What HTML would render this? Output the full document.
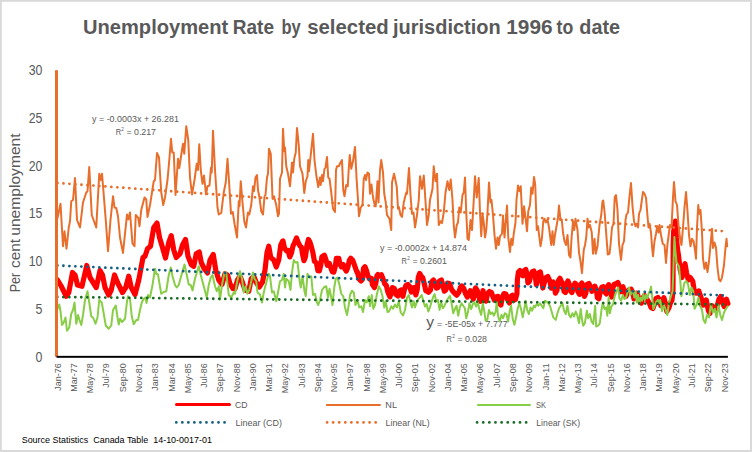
<!DOCTYPE html>
<html><head><meta charset="utf-8"><title>Unemployment Rate by selected jurisdiction</title>
<style>html,body{margin:0;padding:0;background:#fff}body{width:752px;height:452px;overflow:hidden}svg{display:block}text{font-family:"Liberation Sans",sans-serif}</style></head><body>
<svg width="752" height="452" viewBox="0 0 752 452">
<rect x="0" y="0" width="752" height="452" fill="#D9D9D9"/>
<rect x="1.8" y="1.8" width="748.2" height="448.2" fill="#FFFFFF"/>
<text x="83" y="34" font-size="19.5" fill="#595959" text-anchor="start" textLength="145.2" lengthAdjust="spacingAndGlyphs" font-weight="bold">Unemployment</text>
<text x="232.7" y="34" font-size="19.5" fill="#595959" text-anchor="start" textLength="41.3" lengthAdjust="spacingAndGlyphs" font-weight="bold">Rate</text>
<text x="281.5" y="34" font-size="19.5" fill="#595959" text-anchor="start" textLength="19.3" lengthAdjust="spacingAndGlyphs" font-weight="bold">by</text>
<text x="307.2" y="34" font-size="19.5" fill="#595959" text-anchor="start" textLength="81.5" lengthAdjust="spacingAndGlyphs" font-weight="bold">selected</text>
<text x="393" y="34" font-size="19.5" fill="#595959" text-anchor="start" textLength="107.7" lengthAdjust="spacingAndGlyphs" font-weight="bold">jurisdiction</text>
<text x="506.3" y="34" font-size="19.5" fill="#595959" text-anchor="start" textLength="46.3" lengthAdjust="spacingAndGlyphs" font-weight="bold">1996</text>
<text x="556.6" y="34" font-size="19.5" fill="#595959" text-anchor="start" textLength="16.7" lengthAdjust="spacingAndGlyphs" font-weight="bold">to</text>
<text x="579.3" y="34" font-size="19.5" fill="#595959" text-anchor="start" textLength="40.7" lengthAdjust="spacingAndGlyphs" font-weight="bold">date</text>
<text x="35.5" y="361.6" font-size="14" fill="#595959" text-anchor="start" textLength="6.9" lengthAdjust="spacingAndGlyphs">0</text>
<text x="35.5" y="313.885" font-size="14" fill="#595959" text-anchor="start" textLength="6.9" lengthAdjust="spacingAndGlyphs">5</text>
<text x="28.7" y="266.17" font-size="14" fill="#595959" text-anchor="start" textLength="13.7" lengthAdjust="spacingAndGlyphs">10</text>
<text x="28.7" y="218.455" font-size="14" fill="#595959" text-anchor="start" textLength="13.7" lengthAdjust="spacingAndGlyphs">15</text>
<text x="28.7" y="170.74" font-size="14" fill="#595959" text-anchor="start" textLength="13.7" lengthAdjust="spacingAndGlyphs">20</text>
<text x="28.7" y="123.025" font-size="14" fill="#595959" text-anchor="start" textLength="13.7" lengthAdjust="spacingAndGlyphs">25</text>
<text x="28.7" y="75.31" font-size="14" fill="#595959" text-anchor="start" textLength="13.7" lengthAdjust="spacingAndGlyphs">30</text>
<text transform="translate(20 292.3) rotate(-90)" font-size="15.5" fill="#595959" text-anchor="start" textLength="19.5" lengthAdjust="spacingAndGlyphs">Per</text>
<text transform="translate(20 268) rotate(-90)" font-size="15.5" fill="#595959" text-anchor="start" textLength="29" lengthAdjust="spacingAndGlyphs">cent</text>
<text transform="translate(20 235.8) rotate(-90)" font-size="15.5" fill="#595959" text-anchor="start" textLength="102.4" lengthAdjust="spacingAndGlyphs">unemployment</text>
<text x="92" y="122.1" font-size="9" fill="#595959" text-anchor="start" textLength="86.9" lengthAdjust="spacingAndGlyphs">y = -0.0003x + 26.281</text>
<text x="115.7" y="134.9" font-size="9" fill="#595959" text-anchor="start" textLength="5.4" lengthAdjust="spacingAndGlyphs">R</text><text x="121.3" y="130.9" font-size="5.5" fill="#595959" text-anchor="start" textLength="2.6" lengthAdjust="spacingAndGlyphs">2</text><text x="126.5" y="134.9" font-size="9" fill="#595959" text-anchor="start" textLength="29.5" lengthAdjust="spacingAndGlyphs">= 0.217</text>
<text x="380" y="251.1" font-size="9" fill="#595959" text-anchor="start" textLength="86.9" lengthAdjust="spacingAndGlyphs">y = -0.0002x + 14.874</text>
<text x="401.6" y="263.6" font-size="9" fill="#595959" text-anchor="start" textLength="5.4" lengthAdjust="spacingAndGlyphs">R</text><text x="407.2" y="259.6" font-size="5.5" fill="#595959" text-anchor="start" textLength="2.6" lengthAdjust="spacingAndGlyphs">2</text><text x="412.4" y="263.6" font-size="9" fill="#595959" text-anchor="start" textLength="34.4" lengthAdjust="spacingAndGlyphs">= 0.2601</text>
<text x="426.3" y="327.4" font-size="14" fill="#595959" text-anchor="start" textLength="7.8" lengthAdjust="spacingAndGlyphs">y</text>
<text x="437.1" y="327.4" font-size="9" fill="#595959" text-anchor="start" textLength="70.5" lengthAdjust="spacingAndGlyphs">= -5E-05x + 7.777</text>
<text x="446.6" y="342.4" font-size="9" fill="#595959" text-anchor="start" textLength="5.4" lengthAdjust="spacingAndGlyphs">R</text><text x="452.2" y="338.4" font-size="5.5" fill="#595959" text-anchor="start" textLength="2.6" lengthAdjust="spacingAndGlyphs">2</text><text x="457.4" y="342.4" font-size="9" fill="#595959" text-anchor="start" textLength="29.6" lengthAdjust="spacingAndGlyphs">= 0.028</text>
<path d="M57.5 280 L61.25 286.25 L66.25 296.25 L68.75 292.5 L72.5 272.5 L75 275 L77.5 285 L82 286.25 L86.75 265.5 L90 277.5 L96.25 287.5 L100 270.5 L102.5 275 L105 287.5 L108.75 295 L111.25 290 L114.5 275 L117.5 282.5 L122.5 292.5 L125.75 287.5 L128.75 276.25 L131.25 287.5 L135 294.5 L138.75 280 L143 257.5 L145 256.25 L147.5 248.75 L150.5 246.25 L153.75 227.5 L157 223 L159.5 237.5 L162.5 247.5 L165.5 258 L168.75 242.5 L171.25 235.75 L173.75 250 L176.25 257.5 L180 253.75 L182.5 245 L185.5 239.5 L188 256.25 L191.25 264.5 L193.75 266.25 L196.25 253.75 L199.25 252 L201.25 262.5 L204.25 268.75 L207.5 273 L210 260 L213.25 254.5 L215.75 270 L218.75 280 L222 284.5 L225 273.75 L227.5 275 L230 283.75 L233 288.75 L235 288.75 L237.5 280 L240 276.25 L242.5 282.5 L245 290 L248.75 291.25 L251.25 278.75 L253.75 276.25 L256.25 282.5 L259.25 287 L262.5 282 L265 270 L267 252.5 L268.75 246.25 L270.75 257.5 L273.75 260 L276.25 267 L278.75 260 L280.75 245 L282.5 241.25 L283 240.96 L284.5 247.94 L286.49 250.93 L287.99 250.43 L289.78 256.91 L291.47 252.93 L292.97 245.95 L294.47 242.96 L296.46 237.97 L297.96 241.96 L299.95 245.95 L301.44 247.18 L302.44 253.68 L303.94 260.64 L305.43 257.01 L306.93 245.59 L308.42 239.41 L309.92 241.98 L311.41 246.76 L312.91 252.72 L314.41 261.25 L316.4 262.8 L317.9 270.75 L319.39 270.89 L320.89 264.65 L321.88 256.95 L324.38 255.19 L325.87 259.51 L327.37 265.24 L329.36 263.52 L330.86 268.05 L332.35 271.75 L333.85 272.16 L335.34 266.24 L336.34 258.32 L338.83 258.26 L339.83 263.74 L341.33 266.86 L343.32 264.62 L344.81 268.56 L346.31 271.04 L347.81 267.57 L349.3 260.48 L350.8 258.21 L352.79 260.24 L354.29 264.54 L355.78 268.95 L357.28 272.75 L357.49 272.19 L358.98 279.01 L360.98 281.01 L362.47 279.29 L363.47 268.45 L364.96 266.68 L366.46 270.4 L367.96 275.83 L369.45 278.88 L371.44 278.29 L372.44 284.64 L374.44 287.59 L375.93 282.84 L376.93 275.61 L377.93 274.47 L379.42 276.03 L381.41 274.8 L382.91 278.56 L384.9 284.01 L386.4 285.6 L387.9 292.28 L389.89 296.79 L391.38 292.51 L392.38 287.66 L394.38 288.67 L395.87 294.49 L397.87 295.96 L399.36 291 L401.35 289.88 L402.85 296.34 L404.35 289.92 L405.84 285.59 L407.84 284.53 L409.83 286.75 L411.33 292.08 L412.82 287.98 L414.32 287.6 L415.81 294.87 L417.31 289.03 L418.3 277.3 L419.6 273.46 L421.3 276.19 L422.79 277.82 L424.29 283.92 L425.78 290.63 L427.78 291.73 L428.45 292.25 L430.45 289.95 L431.94 281.56 L433.44 279.95 L434.93 282.74 L436.43 288.18 L437.93 287.57 L439.42 281.13 L441.41 280.01 L442.91 286.15 L444.41 291.2 L445.9 289.79 L447.4 283.12 L449.39 283.5 L451.38 288.89 L452.88 291.42 L454.87 293.43 L456.87 295.16 L458.86 292.24 L460.36 287.57 L461.85 285.92 L463.85 288.65 L465.34 293.21 L467.34 297.14 L468.83 293.25 L470.33 290.77 L471.82 295.4 L473.32 299.03 L474.32 291.67 L475.61 287.85 L477.31 290.55 L478.8 296.77 L480.3 301.3 L481.79 300.78 L483 290.54 L484.5 298.73 L485.99 301.13 L487.49 293.69 L489.48 291.53 L491.47 292.59 L492.97 296.9 L494.47 300.16 L495.96 296.94 L497.96 296.36 L499.45 303.23 L500.95 305.01 L502.44 296.78 L503.94 293.52 L505.93 294.07 L507.43 299.27 L509.42 302.96 L510.92 296.53 L512.41 295.2 L513.91 300.26 L515.4 299.52 L516.9 293.81 L517.4 279.49 L518.39 271.99 L519.89 270.51 L521.38 274.48 L522.88 275.77 L524.38 270.5 L525.87 269.56 L527.37 276.45 L527.87 282.85 L529.36 281.32 L530.86 274.92 L532.35 271.65 L533.85 271.04 L535.34 276.96 L536.34 284.65 L537.84 279.5 L538.83 272.56 L540.33 271.98 L541.82 279.18 L542.82 288.04 L544.32 282.64 L545.81 277.78 L547.81 276.51 L549.8 280.74 L551.3 288.13 L552.79 282.44 L553.3 282.1 L554 285.58 L555.49 293.14 L556.99 290.21 L558.48 280.52 L559.98 278.35 L561.47 281.64 L562.97 284.89 L563.97 291.25 L565.46 292.57 L566.46 283.79 L567.96 281.02 L569.45 284.8 L570.45 290.83 L571.94 292.61 L573.44 286.93 L574.93 283.11 L576.43 284.68 L577.93 291.68 L579.42 294.36 L580.42 284.66 L581.91 283.05 L583.41 289.31 L584.41 296.31 L585.9 293 L586.9 284.63 L588.89 283.53 L590.39 286.17 L591.88 291.23 L593.38 290.04 L594.87 286.16 L596.37 290.03 L597.37 297.66 L598.86 298.78 L600.36 291.09 L601.85 287.17 L603.35 286.59 L604.84 292.31 L606.34 293.87 L607.34 286.72 L608.83 284.62 L610.33 290.6 L611.82 297.08 L612.82 287.99 L614.32 284.15 L616.31 283.6 L617.81 282.44 L619.3 286.24 L620.8 291.74 L622.29 287.33 L623 286.79 L624.5 292.73 L625.99 296.28 L627.49 292.08 L628.98 289.75 L630.98 289.11 L632.47 291.74 L633.97 298.87 L635.46 294.91 L636.96 293.23 L638.45 297.11 L639.95 302 L641.44 303.03 L642.94 297.82 L644.44 295.53 L646.43 298.69 L647.93 300.85 L649.42 303.42 L650.92 307.36 L652.91 308.46 L654.41 304.41 L655.9 298.59 L657.9 297.5 L659.39 299.69 L660.89 305.66 L662.38 301.88 L663.88 297.6 L665.37 303.14 L666.87 311.45 L668.86 307.89 L670.4 303 L672 300 L673 290 L673.2 245 L673.6 232 L675.4 221.1 L676.4 238 L677.6 250 L678.6 256 L680.2 270 L682 277.5 L683.5 268.75 L685 263.75 L686.5 272.5 L688.25 280 L690.25 277.5 L692.75 281.25 L694.5 292.5 L696.6 293.19 L698.83 290.96 L701.07 297.66 L703.3 305.11 L706.28 299.9 L708.51 311.07 L710 313.3 L712.24 305.85 L714.47 309.58 L716.71 307.34 L718.94 299.15 L720.73 296.47 L722.66 302.87 L724.15 306.6 L726.39 299.15 L727.88 303.62" fill="none" stroke="#FF0000" stroke-width="5.2" stroke-linejoin="round" stroke-linecap="round"/>
<path d="M57.5 218 L60.5 203.75 L63 246.25 L64.5 231.25 L66.5 248.75 L68.75 227.5 L70 221.25 L71.25 201.25 L73 200 L75 178 L77 220 L80 227.5 L83 202.5 L86.25 192.5 L87.5 191.25 L89.25 167 L91.75 215 L96.25 227.5 L99.25 173.75 L100.75 180 L102 173.75 L103.75 195 L105.75 220 L108 251.25 L110.5 220 L113 196.25 L114.5 207.5 L116.25 208 L118 216.25 L120 237.5 L123 253 L127 214.5 L128.25 219.5 L130 212.5 L132.5 243.75 L134.5 246.25 L135.75 215 L138.25 218 L139.5 226.25 L141.25 210 L144.5 197.5 L146.25 199.5 L147.5 217 L150 205 L153.75 181.25 L155 180 L157 153 L159 157.5 L161.25 192.5 L163.25 205 L165 197.5 L167.5 180 L169.5 157.5 L171 138.75 L172.25 152.5 L173.75 152.5 L175.5 195 L178 158.75 L179.25 168 L181.25 155 L183 143.75 L184.25 153.75 L186.25 126.25 L188.25 140 L190 177.5 L192 194.5 L194.5 180 L196.75 163.75 L198 170 L199.25 144.25 L200.75 170 L202.5 183.75 L204 175.5 L206 194.5 L207.5 186.25 L209.5 185.5 L211 167.5 L211.75 172.5 L213 130.75 L215 170 L217.5 207.5 L218.75 214.5 L221.25 213 L223.75 192.5 L225.75 182.5 L227.5 158.75 L229.25 185 L231 213.75 L232.75 212 L234.75 225 L237 237.5 L238.75 201.25 L239.5 206.25 L240.75 181.25 L242.5 202.5 L244.25 221.25 L246 227.5 L248 212.5 L249.25 214.5 L251.25 205 L253 186.25 L254 191.25 L255.5 177.5 L257 175 L258 190 L259.5 197.5 L261.25 211.25 L263 214.5 L264.5 196.25 L265.5 195 L267 177.5 L268 173.75 L269 148.75 L270.75 153.75 L272.5 197.5 L274 196.25 L276.25 205 L278 216.25 L279 213.75 L280 178.75 L282 172.5 L283 128.75 L284.25 151.25 L285 147.5 L286.25 166.25 L288 173.75 L290 186.25 L292 162.5 L293 172.5 L294.25 158.75 L295.75 152.5 L297 128 L298.75 145 L300 166.25 L302.5 173.75 L304.25 193 L305.75 181.25 L307.5 176.25 L308.25 160 L309 171.25 L311 152.5 L313 133.75 L314.5 160 L316.25 175 L318.25 187 L320 177.5 L320.75 185 L322 175 L323 181.25 L324.5 168.75 L325.5 167.5 L327 157 L328.25 177.5 L329.5 178.75 L331.25 192.5 L333 208.75 L335 212 L336 170 L337 166.25 L338.75 166.25 L340.5 162.5 L342 160 L343.25 190 L344.5 196.25 L346.25 185 L347.75 186.25 L348.75 168.75 L349.75 155 L351.25 168.75 L353 161.25 L355 147 L356.5 177.5 L358 200 L359 216.25 L360.75 207.5 L362.5 205 L363.75 178.75 L365 175 L366 180 L367.5 172.5 L369 173.75 L370 193.75 L371.5 184.5 L373 197.5 L374.5 203.75 L375.75 206.25 L377.5 181.25 L378.5 202.5 L380 170 L381.25 160 L383 172.5 L384.25 193.75 L385.75 202.5 L387 215 L389.5 218.75 L391.25 230 L392 182.5 L394 173.75 L395 178 L396.75 187 L398 208.75 L399 207.5 L400.5 215 L402 217 L403.75 202.5 L406.25 192.5 L407 193.75 L409 168 L410.5 195 L412 213.75 L413.5 212.5 L414.5 222.5 L415 227.5 L417 215 L418.75 200 L420 176.25 L422 188.75 L423.75 175.5 L425 193.75 L427 225 L428.75 215 L430 200 L432.5 188.75 L433.75 166.25 L435.5 181.25 L437 173.75 L438.75 225 L440.5 221.25 L442 223 L443.75 212.5 L445.5 192.5 L447.5 181.25 L449.25 190 L450.75 179.5 L452.5 200 L453.75 225 L455 237.5 L456.75 225 L458 222.5 L459.25 207.5 L460.75 212.5 L462.5 195 L463.75 192.5 L465 177.5 L466.25 212.5 L467.5 238.75 L468.75 240 L470.5 220 L472 230 L473.75 200 L475 176.25 L476.75 197.5 L478.75 178 L480 212.5 L481.25 236.25 L482.5 213.75 L483.75 222.5 L485 237.5 L486.25 230 L487.5 212.5 L489 182.5 L490.5 202.5 L491.5 200 L493 215 L494.5 235 L496 248.75 L497.5 237.5 L498.75 245 L500 236.25 L502 233.75 L503 215.5 L504.5 237.5 L505.5 225 L507 205.5 L508.25 237.5 L510 252 L511.25 238.75 L512.5 245 L513.75 233.75 L515.5 222.5 L516.5 200 L518 185.5 L519.5 191.25 L520.75 186.25 L522.5 223.75 L524 206.25 L525.5 217.5 L527 231.25 L528.25 211.25 L530 205 L531.25 187.5 L532.5 193.75 L534 177 L535.25 185 L536.75 230 L538 226.25 L539.25 236.25 L540.5 246.25 L542 237.5 L543.25 221.25 L544.5 218.75 L545.75 222.5 L547.5 219.5 L549 227.5 L550 235 L551.25 245 L552.5 231.25 L553.75 245 L555 235 L556.5 226.25 L558 217.5 L559 205.5 L560.5 220 L561.75 219.5 L563 232.5 L564.5 241.25 L566 245 L567.5 235 L569 255 L570.5 257.5 L571.5 238.75 L573 221.25 L574.25 230 L575.5 218.75 L577.5 230 L579 252.5 L580.5 261.25 L582 273 L583.75 250 L585 245 L586.25 237.5 L587.5 218.75 L588.75 227.5 L590 225 L591.75 232.5 L593 253.75 L594.5 238.75 L595.75 253.75 L597.5 246.25 L599.5 225 L601.25 215 L602.5 201.25 L603.25 200.5 L604.75 213.75 L606.5 237.5 L607.75 254.5 L609.5 253.75 L610.5 245 L612 227.5 L613.5 223.75 L614.75 197 L616 195 L617.5 210 L619 243.75 L621 260 L622.5 245 L624 241.25 L625.5 220 L626.5 214.5 L628 212.5 L629.5 196.25 L631 183 L632.5 206.25 L634 221.25 L635.5 226.25 L636.5 223.75 L638 227.5 L639 213.75 L640.5 210 L641.5 202.5 L643 192 L644.5 193.75 L646 197.5 L647.5 216.25 L648.5 227.5 L649.5 223.75 L651 232.5 L652 246.25 L653 256.25 L654.5 241.25 L656 233.75 L657.25 226.25 L658.5 232.5 L659.5 225 L661 235 L662.75 243.75 L664.5 245 L666 263 L667.5 243.75 L669 232.5 L670 225 L671.5 227.5 L673 197.5 L674 182 L675.5 201.25 L677 205 L678.5 225 L680 237.5 L681.5 245 L683 227.5 L684.5 207.5 L686 192 L687.5 211.25 L689 235 L690.5 246.25 L692 238.75 L693.5 241.25 L695 250 L696 258.75 L697 227.5 L698.25 205 L699.25 213.75 L700.5 210 L702 232.5 L703 258.75 L704.5 268.75 L706 262.5 L707.5 272 L709 261.25 L710.5 245 L712 228.75 L713 248 L714.5 242.5 L716 247.5 L717.5 267.5 L719 279.5 L720.5 281.25 L722 277.5 L724 265 L725.5 247.5 L726.5 238.75 L727.25 246.25" fill="none" stroke="#E86E2C" stroke-width="2" stroke-linejoin="round" stroke-linecap="round"/>
<path d="M57.5 308.75 L59.25 304.5 L60.5 311.25 L62 325 L63.75 322.5 L65.5 317.5 L67 330.75 L69.25 327.5 L71.25 313.75 L73 310 L74.5 302.5 L76.25 323.75 L78 315 L79.5 320 L81.25 325 L83 315 L85 300 L87.5 291.25 L89.25 302.5 L91.25 316.25 L93.25 318 L95.5 323.75 L97.5 317.5 L99.25 300 L101.75 302.5 L103.75 313.75 L105.75 325.5 L108.75 328.75 L111.25 325.5 L113 310 L115.75 305.5 L117.5 317.5 L118.75 324.5 L120 318.75 L122 322 L125 318.75 L127 301.25 L128 296.25 L130 298.75 L131.75 316.25 L133.75 324.25 L136.25 320 L138 320 L140 310 L141.75 302.5 L143.75 298.75 L145.5 297.5 L146.5 303 L148 295 L150 297.5 L152.5 285 L155 268.75 L156.25 273.75 L158 274.5 L159.5 283.75 L161.25 293.75 L163.75 292 L166.25 291.25 L168.75 275 L170.75 267.5 L172.5 276.25 L175 285 L176.75 287.5 L178.75 285 L180.75 277.5 L182.5 271.25 L184.5 264.5 L186.25 272.5 L188.75 284.5 L190.75 285 L192.5 290.5 L195 278.75 L198.75 266.25 L200.75 275 L203.75 286.25 L206.75 297.5 L208.75 285 L210.75 277.5 L212.5 275 L215 286.25 L216.75 291.25 L218.75 286.25 L220 299.5 L222 285 L224.5 272.5 L226.25 272.5 L228.75 295 L231.25 297.5 L233.75 292.5 L235 293.75 L237.5 280 L240 271.25 L242 278.75 L243.75 292.5 L245.5 286.25 L247.5 293.75 L249.25 290 L251.25 281.25 L253 272.5 L254.5 278.75 L256.25 281.25 L257.5 292.5 L260 294.5 L262 302.5 L263.75 292.5 L266.25 282.5 L268.75 273.75 L270 276.25 L272 292.5 L273.75 291.25 L276.25 301.25 L278 292.5 L280 281.25 L282 280 L283.75 273.75 L285 287.5 L286.25 278.75 L288.75 281.25 L290.5 290 L292 272.5 L293.75 260 L295.5 262.5 L297.5 262 L299.5 280 L300.75 287.5 L302.5 276.25 L304.5 291.25 L305.75 296.25 L307.5 273.75 L309.25 277.5 L311.25 276.25 L313 295 L315 293.75 L317 302.5 L318.25 305 L320 300 L322 290 L323.75 287.5 L326.25 286.25 L328 297.5 L329.5 288.75 L331.25 297.5 L332.5 305 L334.25 287.5 L335.75 278.75 L337.5 277.5 L339.5 285 L341.25 293.75 L343.25 296.25 L345 307.5 L347 315 L348.75 305 L350 295 L352 290.75 L353.75 292.5 L355.5 305 L357.5 300 L359.25 307.5 L361.25 306.25 L363 312 L365 300 L366.75 302.5 L368.75 296.25 L370 306.25 L371.75 295 L373.25 308.75 L375 305 L376.75 295 L378.75 286.25 L380.75 290 L382.5 296.25 L384.25 307.5 L385.75 301.25 L387.5 312 L389.25 311.25 L391.25 306.25 L393 308.75 L395 304.5 L397 307.5 L398.75 301.25 L400.75 312.5 L403 315.5 L405 310 L407 297.5 L408.75 295 L410.5 302.5 L412 307.5 L413.75 301.25 L415 307.4 L416.66 302.41 L418.32 299.09 L419.99 297.43 L421.65 294.93 L423.31 300.75 L424.97 306.57 L426.64 304.08 L428.3 311.56 L429.96 307.4 L431.62 301.58 L433.28 296.6 L434.61 294.1 L436.28 301.58 L437.94 299.92 L439.6 309.89 L441.26 302.41 L442.93 308.23 L444.59 305.74 L446.58 300.75 L448.24 298.26 L449.91 295.76 L451.57 303.24 L453.23 313.22 L454.89 309.06 L456.56 305.74 L458.22 315.71 L459.88 307.4 L461.54 303.24 L463.2 305.74 L464.87 308.23 L466.2 318.2 L467.86 312.39 L469.52 303.24 L471.18 309.06 L472.85 304.08 L474.51 302.41 L476.17 306.57 L477.83 302.41 L479.49 309.89 L481.16 314.88 L482.82 303.24 L484.15 310.72 L485.64 320.7 L487.31 319.87 L488.97 309.89 L490.63 314.05 L492.29 312.39 L493.96 315.71 L495.62 311.56 L496.78 302.41 L498.11 316.54 L499.77 321.53 L501.44 314.88 L503.1 318.2 L504.76 313.22 L506.42 314.05 L508.09 321.53 L509.75 310.72 L511.08 305.74 L512.74 319.04 L514.4 324.85 L516.06 317.37 L517.73 308.23 L519.39 303.24 L521.05 309.06 L522.71 317.37 L524.38 309.06 L525.54 300.75 L527.2 309.89 L528.86 314.05 L530.53 307.4 L532.19 310.72 L533.85 305.74 L535 307.4 L536.66 304.08 L538.32 305.74 L539.99 303.24 L541.65 305.74 L543.31 308.23 L544.97 300.75 L546.64 301.58 L548.3 303.24 L549.96 305.74 L551.62 311.56 L553.28 317.37 L555.78 319.87 L557.44 313.22 L559.1 308.23 L560.76 305.74 L562.43 303.24 L564.09 310.72 L565.75 314.05 L567.41 305.74 L569.08 314.88 L570.74 317.37 L572.4 313.22 L574.06 316.54 L575.72 311.56 L577.39 315.71 L579.05 323.19 L580.71 309.06 L582.04 319.87 L583.2 325.68 L584.87 323.19 L586.86 310.72 L588.19 318.2 L589.85 314.05 L591.52 321.53 L593.18 324.02 L595.17 305.74 L596.17 326.52 L598.16 325.68 L599.83 323.19 L601.49 309.89 L602.82 302.41 L604.48 309.06 L606.14 307.4 L607.31 315.71 L608.64 297.43 L609.8 313.22 L611.46 306.57 L613.12 304.08 L614.79 295.76 L616.45 291.61 L618.11 287.45 L619.44 298.26 L621.1 300.75 L622.77 294.93 L624.43 299.09 L626.09 297.43 L627.75 291.61 L629.08 287.45 L630.41 294.93 L631.74 292.44 L633.07 290.78 L634.4 297.43 L635.73 291.61 L636.73 302.41 L638.06 294.93 L639.39 303.24 L640.72 297.43 L642.05 300.75 L643.38 294.1 L644.71 299.92 L646.04 294.93 L647.37 298.26 L648.7 293.27 L650.03 290.78 L651.02 286.62 L652.19 297.43 L653.35 309.06 L654.68 305.74 L656.34 301.58 L658.01 299.92 L659.67 303.24 L660.25 300 L662 311.25 L664 305 L665.75 310 L667.25 315 L669 302.5 L671 296 L672.6 291 L673.5 265 L674.4 237 L675.3 250 L676.5 262 L679 266.4 L680.2 279.8 L681.4 296.2 L683 290 L684.5 282.5 L686.5 281.25 L688.25 285 L689.75 295 L691.5 287.5 L693.25 291.25 L694.5 308.75 L696.5 305 L698.5 297.5 L700.25 306.25 L702 310 L703.5 320 L705.25 323 L707 315 L709 317.5 L711 303.75 L712.75 312.5 L714.75 308.75 L716.5 317.5 L718.5 305 L720.25 315 L722 320 L724 312.5 L726 308.75 L727.75 306.25" fill="none" stroke="#88CD46" stroke-width="2" stroke-linejoin="round" stroke-linecap="round"/>
<line x1="57.4" y1="265.5" x2="727.5" y2="295.6" stroke="#156082" stroke-width="2.8" stroke-linecap="round" stroke-dasharray="0 6.0"/>
<line x1="57.5" y1="183" x2="727.5" y2="231.5" stroke="#E86E2C" stroke-width="2.8" stroke-linecap="round" stroke-dasharray="0 6.0"/>
<line x1="57.3" y1="297" x2="727.5" y2="304.5" stroke="#196B24" stroke-width="2.8" stroke-linecap="round" stroke-dasharray="0 6.0"/>
<rect x="55" y="70.2" width="3" height="286.6" fill="#E86E2C"/>
<rect x="56.5" y="355.85" width="671.4" height="1.95" fill="#000"/>
<text transform="translate(61.2 363.3) rotate(-90)" font-size="9" fill="#595959" text-anchor="end">Jan-76</text>
<text transform="translate(76.961 363.3) rotate(-90)" font-size="9" fill="#595959" text-anchor="end">Mar-77</text>
<text transform="translate(93.222 363.3) rotate(-90)" font-size="9" fill="#595959" text-anchor="end">May-78</text>
<text transform="translate(109.483 363.3) rotate(-90)" font-size="9" fill="#595959" text-anchor="end">Jul-79</text>
<text transform="translate(125.744 363.3) rotate(-90)" font-size="9" fill="#595959" text-anchor="end">Sep-80</text>
<text transform="translate(142.005 363.3) rotate(-90)" font-size="9" fill="#595959" text-anchor="end">Nov-81</text>
<text transform="translate(158.266 363.3) rotate(-90)" font-size="9" fill="#595959" text-anchor="end">Jan-83</text>
<text transform="translate(174.527 363.3) rotate(-90)" font-size="9" fill="#595959" text-anchor="end">Mar-84</text>
<text transform="translate(190.788 363.3) rotate(-90)" font-size="9" fill="#595959" text-anchor="end">May-85</text>
<text transform="translate(207.049 363.3) rotate(-90)" font-size="9" fill="#595959" text-anchor="end">Jul-86</text>
<text transform="translate(223.31 363.3) rotate(-90)" font-size="9" fill="#595959" text-anchor="end">Sep-87</text>
<text transform="translate(239.571 363.3) rotate(-90)" font-size="9" fill="#595959" text-anchor="end">Nov-88</text>
<text transform="translate(255.832 363.3) rotate(-90)" font-size="9" fill="#595959" text-anchor="end">Jan-90</text>
<text transform="translate(272.093 363.3) rotate(-90)" font-size="9" fill="#595959" text-anchor="end">Mar-91</text>
<text transform="translate(288.354 363.3) rotate(-90)" font-size="9" fill="#595959" text-anchor="end">May-92</text>
<text transform="translate(304.615 363.3) rotate(-90)" font-size="9" fill="#595959" text-anchor="end">Jul-93</text>
<text transform="translate(320.876 363.3) rotate(-90)" font-size="9" fill="#595959" text-anchor="end">Sep-94</text>
<text transform="translate(337.137 363.3) rotate(-90)" font-size="9" fill="#595959" text-anchor="end">Nov-95</text>
<text transform="translate(353.398 363.3) rotate(-90)" font-size="9" fill="#595959" text-anchor="end">Jan-97</text>
<text transform="translate(369.659 363.3) rotate(-90)" font-size="9" fill="#595959" text-anchor="end">Mar-98</text>
<text transform="translate(385.92 363.3) rotate(-90)" font-size="9" fill="#595959" text-anchor="end">May-99</text>
<text transform="translate(402.18 363.3) rotate(-90)" font-size="9" fill="#595959" text-anchor="end">Jul-00</text>
<text transform="translate(418.441 363.3) rotate(-90)" font-size="9" fill="#595959" text-anchor="end">Sep-01</text>
<text transform="translate(434.702 363.3) rotate(-90)" font-size="9" fill="#595959" text-anchor="end">Nov-02</text>
<text transform="translate(450.963 363.3) rotate(-90)" font-size="9" fill="#595959" text-anchor="end">Jan-04</text>
<text transform="translate(467.224 363.3) rotate(-90)" font-size="9" fill="#595959" text-anchor="end">Mar-05</text>
<text transform="translate(483.485 363.3) rotate(-90)" font-size="9" fill="#595959" text-anchor="end">May-06</text>
<text transform="translate(499.746 363.3) rotate(-90)" font-size="9" fill="#595959" text-anchor="end">Jul-07</text>
<text transform="translate(516.007 363.3) rotate(-90)" font-size="9" fill="#595959" text-anchor="end">Sep-08</text>
<text transform="translate(532.268 363.3) rotate(-90)" font-size="9" fill="#595959" text-anchor="end">Nov-09</text>
<text transform="translate(548.529 363.3) rotate(-90)" font-size="9" fill="#595959" text-anchor="end">Jan-11</text>
<text transform="translate(564.79 363.3) rotate(-90)" font-size="9" fill="#595959" text-anchor="end">Mar-12</text>
<text transform="translate(581.051 363.3) rotate(-90)" font-size="9" fill="#595959" text-anchor="end">May-13</text>
<text transform="translate(597.312 363.3) rotate(-90)" font-size="9" fill="#595959" text-anchor="end">Jul-14</text>
<text transform="translate(613.573 363.3) rotate(-90)" font-size="9" fill="#595959" text-anchor="end">Sep-15</text>
<text transform="translate(629.834 363.3) rotate(-90)" font-size="9" fill="#595959" text-anchor="end">Nov-16</text>
<text transform="translate(646.095 363.3) rotate(-90)" font-size="9" fill="#595959" text-anchor="end">Jan-18</text>
<text transform="translate(662.356 363.3) rotate(-90)" font-size="9" fill="#595959" text-anchor="end">Mar-19</text>
<text transform="translate(678.617 363.3) rotate(-90)" font-size="9" fill="#595959" text-anchor="end">May-20</text>
<text transform="translate(694.878 363.3) rotate(-90)" font-size="9" fill="#595959" text-anchor="end">Jul-21</text>
<text transform="translate(711.139 363.3) rotate(-90)" font-size="9" fill="#595959" text-anchor="end">Sep-22</text>
<text transform="translate(727.9 363.3) rotate(-90)" font-size="9" fill="#595959" text-anchor="end">Nov-23</text>
<line x1="176.5" y1="404.5" x2="229.5" y2="404.5" stroke="#FF0000" stroke-width="3" stroke-linecap="round"/>
<text x="235.1" y="407.8" font-size="9" fill="#595959" text-anchor="start" textLength="12.5" lengthAdjust="spacingAndGlyphs">CD</text>
<line x1="326.1" y1="404.9" x2="380.7" y2="404.9" stroke="#E86E2C" stroke-width="2"/>
<text x="385.3" y="407.8" font-size="9" fill="#595959" text-anchor="start" textLength="11.7" lengthAdjust="spacingAndGlyphs">NL</text>
<line x1="477.2" y1="404.9" x2="530.7" y2="404.9" stroke="#88CD46" stroke-width="2"/>
<text x="536.1" y="407.8" font-size="9" fill="#595959" text-anchor="start" textLength="10" lengthAdjust="spacingAndGlyphs">SK</text>
<line x1="176.3" y1="422.4" x2="225" y2="422.4" stroke="#156082" stroke-width="2.8" stroke-linecap="round" stroke-dasharray="0 6.03"/>
<text x="235.6" y="425.7" font-size="9" fill="#595959" text-anchor="start" textLength="46.3" lengthAdjust="spacingAndGlyphs">Linear (CD)</text>
<line x1="327.1" y1="422.4" x2="376" y2="422.4" stroke="#E86E2C" stroke-width="2.8" stroke-linecap="round" stroke-dasharray="0 6.07"/>
<text x="385.6" y="425.7" font-size="9" fill="#595959" text-anchor="start" textLength="44.1" lengthAdjust="spacingAndGlyphs">Linear (NL)</text>
<line x1="477.1" y1="422.4" x2="526.5" y2="422.4" stroke="#196B24" stroke-width="2.8" stroke-linecap="round" stroke-dasharray="0 6.13"/>
<text x="536.3" y="425.7" font-size="9" fill="#595959" text-anchor="start" textLength="43.9" lengthAdjust="spacingAndGlyphs">Linear (SK)</text>
<text x="21.7" y="442.5" font-size="9" fill="#000" text-anchor="start" textLength="190.2" lengthAdjust="spacingAndGlyphs" xml:space="preserve">Source Statistics  Canada Table  14-10-0017-01</text>
</svg></body></html>
